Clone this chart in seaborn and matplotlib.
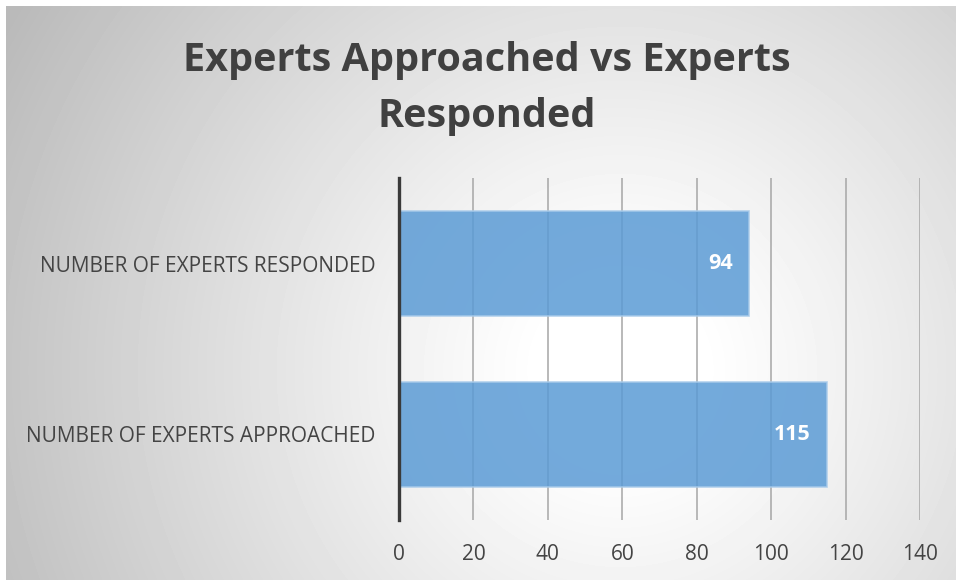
import numpy as np
import pandas as pd
import matplotlib
matplotlib.use("Agg")
import matplotlib.pyplot as plt
import seaborn as sns

categories = ["NUMBER OF EXPERTS RESPONDED", "NUMBER OF EXPERTS APPROACHED"]
values = [94, 115]
xticks = [0, 20, 40, 60, 80, 100, 120, 140]
title_lines = ["Experts Approached vs Experts", "Responded"]

sns.set_theme(style="white")
plt.rcParams["font.family"] = ["Open Sans", "DejaVu Sans"]

W, H = 960, 580
fig = plt.figure(figsize=(W / 100, H / 100), dpi=100)
fig.patch.set_facecolor("white")

# radial gradient background
bx0, by0, bx1, by1 = 6, 6, 956, 580
bg = fig.add_axes([bx0 / W, 1 - by1 / H, (bx1 - bx0) / W, (by1 - by0) / H], zorder=-10)
gx, gy = np.meshgrid(np.arange(bx0, bx1), np.arange(by0, by1))
cx, cy = 620, 370
r = np.sqrt((gx - cx) ** 2 + (gy - cy) ** 2)
R = 700.0
t = np.clip((r - 80) / (R - 80), 0, 1)
v = 1 - 0.27 * t ** 1.1
bg.imshow(v, cmap="gray", vmin=0, vmax=1, aspect="auto", interpolation="bilinear")
bg.set_axis_off()

ax = fig.add_axes([399 / W, 1 - 520 / H, 521 / W, 342 / H])
ax.set_facecolor("none")
df = pd.DataFrame({"cat": categories, "val": values})
sns.barplot(data=df, x="val", y="cat", orient="h", ax=ax, color="#5b9bd5",
            width=0.61, alpha=0.85, edgecolor="#a9cbea", linewidth=1.2,
            saturation=1)

ax.set_xlim(0, 140)
ax.set_ylim(1.5, -0.5)
ax.set_xticks(xticks)
ax.set_xticklabels([str(x) for x in xticks])
ax.set_axisbelow(True)
ax.xaxis.grid(True, color="#a6a6a6", linewidth=1.1)
ax.yaxis.grid(False)
ax.set_xlabel("")
ax.set_ylabel("")
for side in ["top", "right", "bottom"]:
    ax.spines[side].set_visible(False)
ax.spines["left"].set_color("#3a3a3a")
ax.spines["left"].set_linewidth(2.4)
ax.tick_params(axis="x", length=0, pad=17, labelsize=15, labelcolor="#444444")
ax.tick_params(axis="y", length=0, pad=17, labelsize=15, labelcolor="#444444")

for i, v_ in enumerate(values):
    ax.text(v_ - 4.3, i, str(v_), ha="right", va="center", color="white",
            fontsize=15.5, fontweight="bold")

for k, (line, yc) in enumerate(zip(title_lines, [60, 117])):
    fig.text(487 / W, 1 - yc / H, line, ha="center", va="center", fontsize=28.5,
             fontweight="bold", color="#404040")

fig.savefig("out.png", dpi=100)
